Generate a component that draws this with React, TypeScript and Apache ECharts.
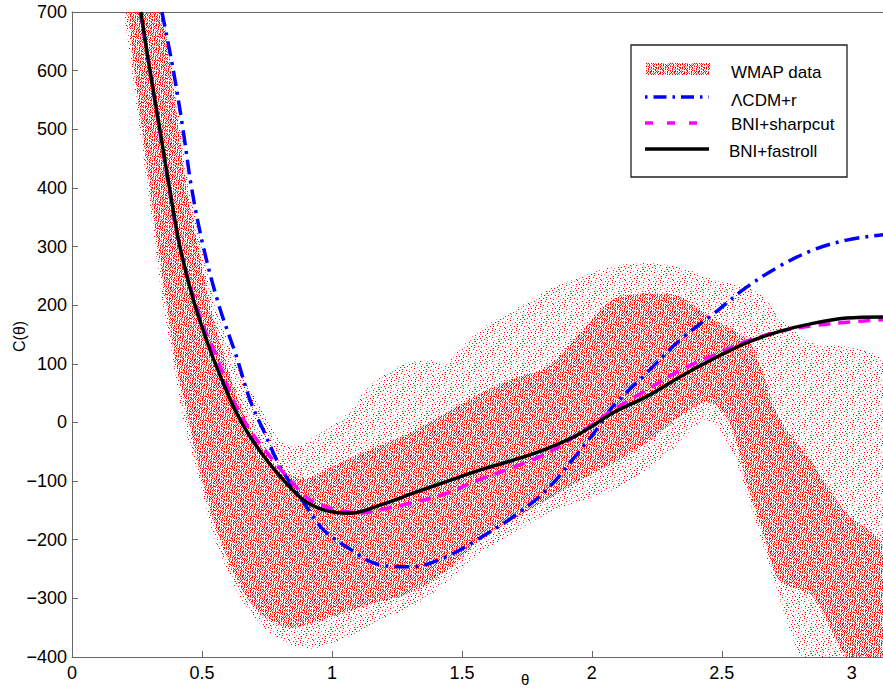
import React, { useEffect, useRef } from "react";
import * as echarts from "echarts";

// ---- data ----
const fastrollTheta = [0.265, 0.3, 0.338, 0.375, 0.415, 0.467, 0.531, 0.582, 0.633, 0.685, 0.749, 0.813, 0.89, 0.967, 1.069, 1.185, 1.31, 1.44, 1.57, 1.7, 1.83, 1.95, 2.08, 2.21, 2.34, 2.47, 2.59, 2.72, 2.85, 2.98, 3.12];
const fastrollC = [700, 600, 500, 400, 300, 209, 124, 67, 16, -24, -64, -98, -132, -149, -155, -141, -121, -101, -81, -64, -44, -20, 16, 44, 78, 109, 135, 155, 169, 178, 180];

const sharpcutTheta = [0.262, 0.3, 0.336, 0.373, 0.415, 0.492, 0.556, 0.62, 0.685, 0.762, 0.838, 0.915, 0.992, 1.056, 1.12, 1.185, 1.31, 1.44, 1.57, 1.7, 1.826, 1.954, 2.08, 2.21, 2.34, 2.47, 2.59, 2.72, 2.85, 2.98, 3.12];
const sharpcutC = [700, 600, 500, 400, 300, 180, 112, 38, -13, -58, -98, -132, -146, -152, -154, -149, -137, -121, -97, -76, -53, -18, 21, 55, 89, 115, 138, 155, 165, 171, 175];

const lcdmTheta = [0.346, 0.39, 0.427, 0.46, 0.505, 0.565, 0.633, 0.685, 0.736, 0.8, 0.851, 0.903, 0.967, 1.056, 1.185, 1.31, 1.44, 1.57, 1.7, 1.826, 1.954, 2.03, 2.08, 2.21, 2.34, 2.47, 2.59, 2.72, 2.85, 2.98, 3.12];
const lcdmC = [700, 600, 500, 400, 300, 200, 112, 38, -13, -75, -110, -144, -183, -212, -243, -246, -229, -197, -160, -115, -48, -5, 27, 84, 141, 186, 229, 266, 294, 311, 320];

// WMAP realisations: outer envelope of the cloud
const wmapLowerTheta = [0.17, 0.2, 0.23, 0.26, 0.29, 0.32, 0.35, 0.39, 0.43, 0.49, 0.55, 0.65, 0.75, 0.85, 0.93, 1.06, 1.185, 1.31, 1.44, 1.57, 1.7, 1.83, 1.95, 2.08, 2.21, 2.34, 2.44, 2.53, 2.6, 2.66, 2.72, 2.79, 2.85, 3.12];
const wmapLower = [800, 700, 600, 500, 400, 300, 200, 100, 0, -100, -200, -300, -355, -380, -385, -366, -337, -314, -274, -223, -189, -155, -135, -115, -81, -35, 4, -41, -127, -212, -298, -388, -440, -440];
const wmapUpperTheta = [0.33, 0.35, 0.39, 0.42, 0.45, 0.5, 0.55, 0.62, 0.72, 0.8, 0.87, 0.93, 1.0, 1.06, 1.12, 1.185, 1.25, 1.31, 1.38, 1.44, 1.5, 1.57, 1.7, 1.85, 2.0, 2.1, 2.21, 2.34, 2.47, 2.6, 2.66, 2.72, 2.85, 2.98, 3.12];
const wmapUpper = [800, 700, 600, 500, 400, 300, 200, 120, 30, -30, -40, -25, -5, 16, 50, 78, 95, 103, 106, 101, 130, 158, 192, 230, 255, 268, 272, 265, 243, 231, 214, 180, 135, 129, 101];

// WMAP realisations: dense core of the cloud
const wmapCoreLowerTheta = [0.19, 0.215, 0.24, 0.27, 0.3, 0.33, 0.365, 0.4, 0.45, 0.5, 0.57, 0.66, 0.75, 0.85, 1.0, 1.15, 1.3, 1.45, 1.57, 1.7, 1.83, 1.95, 2.08, 2.21, 2.34, 2.45, 2.53, 2.6, 2.66, 2.72, 2.85, 2.98, 3.12];
const wmapCoreLower = [800, 700, 600, 500, 400, 300, 200, 100, 0, -100, -200, -290, -335, -350, -331, -310, -291, -250, -200, -165, -132, -100, -70, -35, 10, 35, 0, -110, -190, -269, -297, -400, -440];
const wmapCoreUpperTheta = [0.34, 0.38, 0.41, 0.44, 0.485, 0.53, 0.58, 0.63, 0.7, 0.8, 0.9, 1.0, 1.15, 1.3, 1.45, 1.57, 1.7, 1.83, 1.95, 2.08, 2.21, 2.34, 2.47, 2.6, 2.66, 2.72, 2.85, 2.98, 3.12];
const wmapCoreUpper = [700, 600, 500, 400, 300, 200, 120, 50, -20, -80, -95, -75, -45, -18, 20, 50, 75, 95, 150, 210, 220, 214, 175, 140, 80, 9, -70, -155, -212];

const yTicks = { min: -400, max: 700, step: 100 };
const xTicks = { min: 0, max: 3.12, step: 0.5 };

const legendNames = ["WMAP data", "\u039BCDM+r", "BNI+sharpcut", "BNI+fastroll"];

const FONT = "'Liberation Sans', Arial, Helvetica, sans-serif";

function pairs(t: number[], v: number[]) {
  return t.map((x, i) => [x, v[i]]);
}

function dotTile(size: number, count: number) {
  const c = document.createElement("canvas");
  c.width = size;
  c.height = size;
  const ctx = c.getContext("2d")!;
  const g1 = 0.7548776662;
  const g2 = 0.569840291;
  for (let k = 0; k < count; k++) {
    const x = Math.floor(((0.5 + k * g1) % 1) * size);
    const y = Math.floor(((0.5 + k * g2) % 1) * size);
    ctx.fillStyle = k % 3 === 0 ? "rgba(255,70,70,0.75)" : "rgba(255,0,0,1)";
    ctx.fillRect(x, y, 1, 1);
  }
  return c;
}

export default function App() {
  const ref = useRef<HTMLDivElement>(null);

  useEffect(() => {
    document.body.style.margin = "0";
    if (!ref.current) return;
    const chart = echarts.init(ref.current, null, { renderer: "svg" });

    const sparseTile = dotTile(24, 70);
    const denseTile = dotTile(24, 250);
    const sparseFill: any = { image: sparseTile, repeat: "repeat", imageWidth: 24, imageHeight: 24 };
    const denseFill: any = { image: denseTile, repeat: "repeat", imageWidth: 24, imageHeight: 24 };

    const bands = [
      { lt: wmapLowerTheta, lv: wmapLower, ut: wmapUpperTheta, uv: wmapUpper, fill: sparseFill },
      { lt: wmapCoreLowerTheta, lv: wmapCoreLower, ut: wmapCoreUpperTheta, uv: wmapCoreUpper, fill: denseFill },
    ];

    const axisColor = "#666";

    const option: any = {
      animation: false,
      backgroundColor: "#fff",
      grid: { left: 72, right: 0, top: 12, bottom: 32, containLabel: false },
      xAxis: [
        {
          type: "value",
          min: xTicks.min,
          max: xTicks.max,
          interval: xTicks.step,
          axisLine: { show: true, onZero: false, lineStyle: { color: axisColor, width: 1 } },
          axisTick: { show: true, inside: true, length: 6, lineStyle: { color: axisColor } },
          axisLabel: {
            show: true,
            color: "#000",
            fontSize: 18,
            fontFamily: FONT,
            margin: 7,
            showMaxLabel: false,
            formatter: (v: number) => String(v),
          },
          splitLine: { show: false },
        },
        {
          type: "value",
          position: "top",
          min: xTicks.min,
          max: xTicks.max,
          axisLine: { show: true, onZero: false, lineStyle: { color: axisColor, width: 1 } },
          axisTick: { show: false },
          axisLabel: { show: false },
          splitLine: { show: false },
        },
      ],
      yAxis: {
        type: "value",
        min: yTicks.min,
        max: yTicks.max,
        interval: yTicks.step,
        axisLine: { show: true, onZero: false, lineStyle: { color: axisColor, width: 1 } },
        axisTick: { show: true, inside: true, length: 6, lineStyle: { color: axisColor } },
        axisLabel: {
          color: "#000",
          fontSize: 18,
          fontFamily: FONT,
          margin: 5,
          formatter: (v: number) => String(v).replace("-", "\u2212"),
        },
        splitLine: { show: false },
      },
      series: [
        {
          type: "custom",
          name: legendNames[0],
          coordinateSystem: "cartesian2d",
          clip: true,
          silent: true,
          z: 1,
          data: bands.map((_, i) => [i, 0]),
          renderItem: (params: any, api: any) => {
            const b = bands[params.dataIndex];
            const pts: number[][] = [];
            b.lt.forEach((t: number, i: number) => pts.push(api.coord([t, b.lv[i]])));
            for (let i = b.ut.length - 1; i >= 0; i--) pts.push(api.coord([b.ut[i], b.uv[i]]));
            return {
              type: "polygon",
              shape: { points: pts, smooth: 0.3 },
              style: { fill: b.fill, stroke: "none" },
            };
          },
        },
        {
          type: "line",
          name: legendNames[1],
          data: pairs(lcdmTheta, lcdmC),
          showSymbol: false,
          symbol: "none",
          smooth: 0.35,
          z: 3,
          lineStyle: { color: "#0000ff", width: 3.5, type: [15, 6, 3, 6], cap: "butt" },
        },
        {
          type: "line",
          name: legendNames[2],
          data: pairs(sharpcutTheta, sharpcutC),
          showSymbol: false,
          symbol: "none",
          smooth: 0.35,
          z: 4,
          lineStyle: { color: "#ff00ff", width: 3.5, type: [12, 8], cap: "butt" },
        },
        {
          type: "line",
          name: legendNames[3],
          data: pairs(fastrollTheta, fastrollC),
          showSymbol: false,
          symbol: "none",
          smooth: 0.35,
          z: 5,
          lineStyle: { color: "#000000", width: 3.5 },
        },
      ],
      graphic: [
        {
          type: "text",
          left: 521,
          top: 672,
          style: { text: "\u03B8", fontSize: 15, fontFamily: FONT, fill: "#000" },
        },
        {
          type: "text",
          x: 19,
          y: 352,
          rotation: Math.PI / 2,
          style: { text: "C(\u03B8)", fontSize: 16, fontFamily: FONT, fill: "#000", verticalAlign: "middle", align: "left" },
        },
        {
          type: "group",
          z: 100,
          children: [
            {
              type: "rect",
              shape: { x: 631, y: 45, width: 216, height: 132 },
              style: { fill: "#fff", stroke: "#222", lineWidth: 1.3 },
            },
            {
              type: "rect",
              shape: { x: 646, y: 63, width: 64, height: 12 },
              style: { fill: denseFill, stroke: "none" },
            },
            {
              type: "line",
              shape: { x1: 645, y1: 97, x2: 709, y2: 97 },
              style: { stroke: "#0000ff", lineWidth: 3.5, lineDash: [2.5, 6, 13, 6] },
            },
            {
              type: "line",
              shape: { x1: 645, y1: 123, x2: 709, y2: 123 },
              style: { stroke: "#ff00ff", lineWidth: 3.5, lineDash: [8, 14] },
            },
            {
              type: "line",
              shape: { x1: 645, y1: 149, x2: 709, y2: 149 },
              style: { stroke: "#000", lineWidth: 3.5 },
            },
            {
              type: "text",
              x: 731,
              y: 72,
              style: { text: legendNames[0], fontSize: 17, fontFamily: FONT, fill: "#000", verticalAlign: "middle" },
            },
            {
              type: "text",
              x: 731,
              y: 100,
              style: { text: legendNames[1], fontSize: 17, fontFamily: FONT, fill: "#000", verticalAlign: "middle" },
            },
            {
              type: "text",
              x: 731,
              y: 124,
              style: { text: legendNames[2], fontSize: 17, fontFamily: FONT, fill: "#000", verticalAlign: "middle" },
            },
            {
              type: "text",
              x: 729,
              y: 151,
              style: { text: legendNames[3], fontSize: 17, fontFamily: FONT, fill: "#000", verticalAlign: "middle" },
            },
          ],
        },
      ],
    };

    chart.setOption(option);
    return () => chart.dispose();
  }, []);

  return <div ref={ref} style={{ width: 883, height: 689 }} />;
}
